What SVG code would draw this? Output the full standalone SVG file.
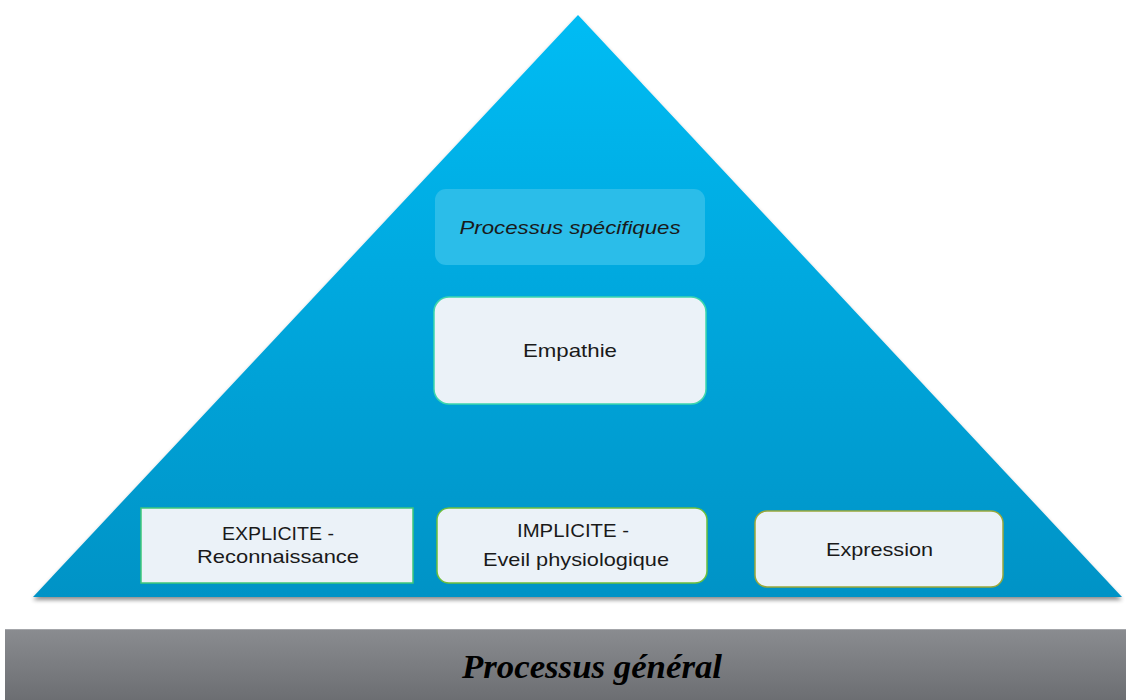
<svg xmlns="http://www.w3.org/2000/svg" width="1126" height="700" viewBox="0 0 1126 700">
<defs>
<linearGradient id="tri" x1="0" y1="0" x2="0" y2="1">
<stop offset="0" stop-color="#00bcf4"/>
<stop offset="0.45" stop-color="#00a9df"/>
<stop offset="1" stop-color="#0093c6"/>
</linearGradient>
<linearGradient id="bar" x1="0" y1="0" x2="0" y2="1">
<stop offset="0" stop-color="#8a8c90"/>
<stop offset="1" stop-color="#6c6e72"/>
</linearGradient>
<filter id="sh" x="-5%" y="-5%" width="110%" height="115%">
<feGaussianBlur in="SourceAlpha" stdDeviation="2"/>
<feOffset dx="0" dy="3"/>
<feComponentTransfer><feFuncA type="linear" slope="0.45"/></feComponentTransfer>
<feMerge><feMergeNode/><feMergeNode in="SourceGraphic"/></feMerge>
</filter>
</defs>
<style>
.box{fill:#ebf2f8;stroke-width:1.5}
.t{font-family:"Liberation Sans",Arial,sans-serif;font-size:19px;fill:#1a1a1a;text-anchor:middle}
</style>
<rect width="1126" height="700" fill="#ffffff"/>
<g id="pyramid">
<polygon points="578,15 1122,597 33,597" fill="url(#tri)" filter="url(#sh)"/>
</g>
<g id="base">
<rect x="5" y="629" width="1121" height="71" fill="url(#bar)"/>
<line x1="5" y1="629.5" x2="1126" y2="629.5" stroke="#a4a6aa" stroke-width="1"/>
<text x="592" y="678" font-family="'Liberation Serif','Times New Roman',serif" font-size="33" font-weight="bold" font-style="italic" fill="#000" text-anchor="middle" textLength="260" lengthAdjust="spacingAndGlyphs">Processus général</text>
</g>
<g id="specifiques">
<rect x="435" y="189" width="270" height="76" rx="11" fill="#2bbde9"/>
<text class="t" x="570" y="234" font-style="italic" textLength="221" lengthAdjust="spacingAndGlyphs">Processus spécifiques</text>
</g>
<g id="empathie">
<rect class="box" x="434" y="297" width="272" height="107" rx="15" stroke="#3ed6ad"/>
<text class="t" x="570" y="357" textLength="94" lengthAdjust="spacingAndGlyphs">Empathie</text>
</g>
<g id="explicite">
<rect class="box" x="141" y="508" width="272" height="75" stroke="#3ec77a"/>
<text class="t" x="278" y="540" textLength="112" lengthAdjust="spacingAndGlyphs">EXPLICITE -</text>
<text class="t" x="278" y="563" textLength="162" lengthAdjust="spacingAndGlyphs">Reconnaissance</text>
</g>
<g id="implicite">
<rect class="box" x="437" y="508" width="270" height="75" rx="12" stroke="#6bbf3c"/>
<text class="t" x="573" y="537" textLength="112" lengthAdjust="spacingAndGlyphs">IMPLICITE -</text>
<text class="t" x="576" y="566" textLength="186" lengthAdjust="spacingAndGlyphs">Eveil physiologique</text>
</g>
<g id="expression">
<rect class="box" x="755" y="511" width="248" height="76" rx="12" stroke="#9aa83a"/>
<text class="t" x="879.5" y="556" textLength="107" lengthAdjust="spacingAndGlyphs">Expression</text>
</g>
<g id="connectors"></g>
</svg>
